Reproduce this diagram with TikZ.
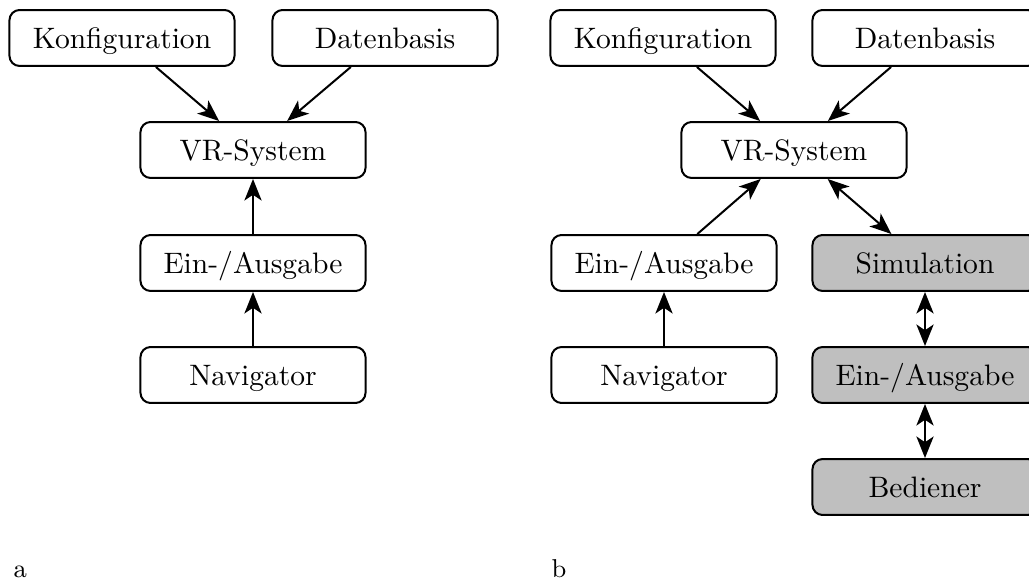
\documentclass[tikz,border=0pt]{standalone}
\usetikzlibrary{arrows.meta}
\begin{document}
\begin{tikzpicture}[
  x=0.3484pt, y=-0.3484pt,
  box/.style={draw, line width=0.7pt, rounded corners=3.5pt,
    minimum width=78.4pt, minimum height=19.5pt, inner sep=0pt,
    text height=7.1pt, text depth=0pt,
    font=\fontsize{10.3}{12}\selectfont},
  shaded/.style={box, fill=black!25},
  link/.style={line width=0.7pt, -{Stealth[length=7.5pt,width=6pt,inset=2pt]}},
  both/.style={line width=0.7pt, {Stealth[length=7.5pt,width=6pt,inset=2pt]}-{Stealth[length=7.5pt,width=6pt,inset=2pt]}},
  tag/.style={anchor=base west, font=\small, inner sep=0pt}
]
\useasboundingbox (0,0) rectangle (1029,583);

% panel a
\node[box] (ka) at (122,38)  {Konfiguration};
\node[box] (da) at (385,38)  {Datenbasis};
\node[box] (va) at (253,150) {VR-System};
\node[box] (ea) at (253,263) {Ein-/Ausgabe};
\node[box] (na) at (253,375) {Navigator};
\draw[link] (ka) -- (va);
\draw[link] (da) -- (va);
\draw[link] (ea) -- (va);
\draw[link] (na) -- (ea);
\node[tag] (la) at (13,577) {a};

% panel b
\node[box] (kb) at (663,38)  {Konfiguration};
\node[box] (db) at (925,38)  {Datenbasis};
\node[box] (vb) at (794,150) {VR-System};
\node[box] (eb) at (664,263) {Ein-/Ausgabe};
\node[box] (nb) at (664,375) {Navigator};
\node[shaded] (sb) at (925,263) {Simulation};
\node[shaded] (gb) at (925,375) {Ein-/Ausgabe};
\node[shaded] (bb) at (925,487) {Bediener};
\draw[link] (kb) -- (vb);
\draw[link] (db) -- (vb);
\draw[link] (eb) -- (vb);
\draw[link] (nb) -- (eb);
\draw[both] (vb) -- (sb);
\draw[both] (sb) -- (gb);
\draw[both] (gb) -- (bb);
\node[tag] (lb) at (551,577) {b};
\end{tikzpicture}
\end{document}
